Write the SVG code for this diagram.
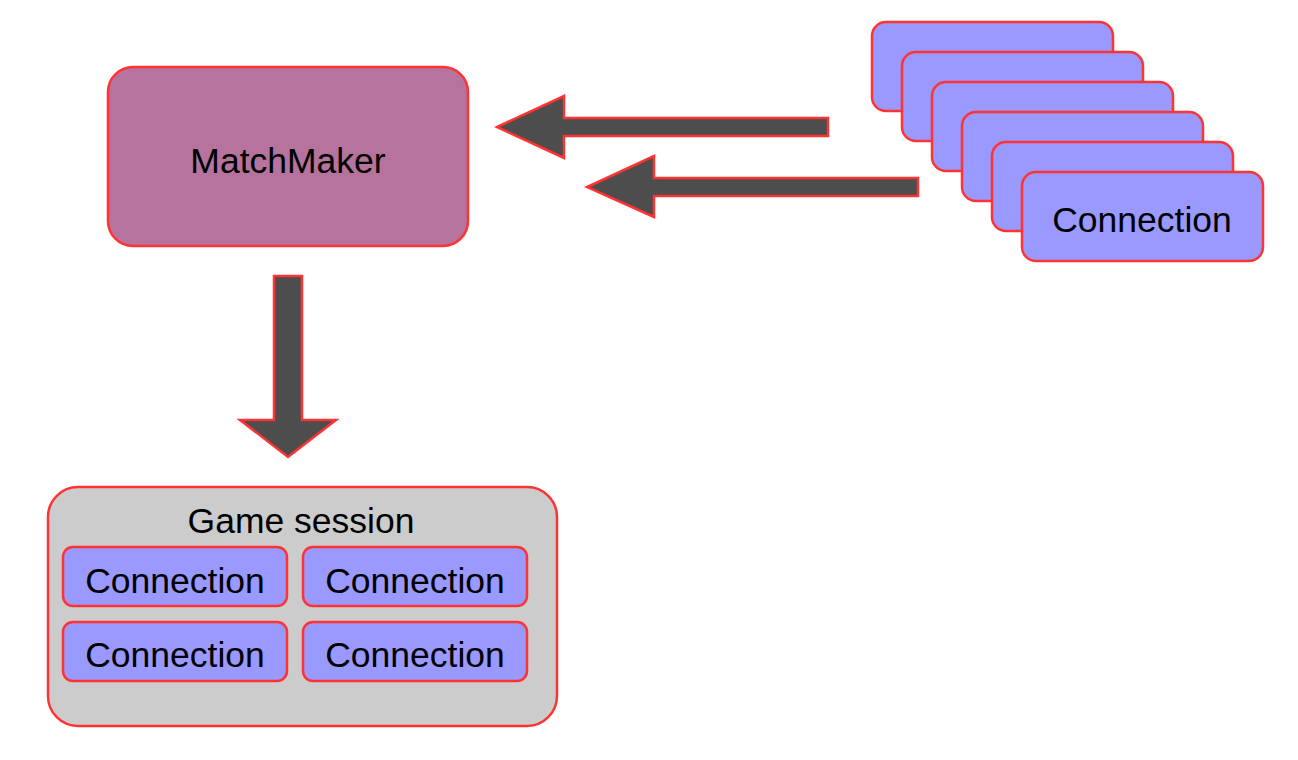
<svg xmlns="http://www.w3.org/2000/svg" width="1298" height="760" viewBox="0 0 1298 760">
<style>
.box{stroke:#FF3333;stroke-width:2.5}
.mm{fill:#B5739D}
.conn{fill:#9999FF}
.gs{fill:#CCCCCC}
.arrow{fill:#4D4D4D;stroke:#FF3333;stroke-width:2.5;stroke-linejoin:miter}
text{font-family:"Liberation Sans",Arial,sans-serif;font-size:35.5px;fill:#000;text-anchor:middle}
</style>
<rect width="1298" height="760" fill="#FFFFFF"/>
<g id="matchmaker">
<rect class="box mm" x="108" y="67" width="360" height="179" rx="25"/>
<text x="288" y="173">MatchMaker</text>
</g>
<g id="connection-stack">
<rect class="box conn" x="872" y="22" width="241" height="89" rx="14"/>
<rect class="box conn" x="902" y="52" width="241" height="89" rx="14"/>
<rect class="box conn" x="932" y="82" width="241" height="89" rx="14"/>
<rect class="box conn" x="962" y="112" width="241" height="89" rx="14"/>
<rect class="box conn" x="992" y="142" width="241" height="89" rx="14"/>
<rect class="box conn" x="1022" y="172" width="241" height="89" rx="14"/>
<text x="1142" y="232">Connection</text>
</g>
<g id="game-session">
<rect class="box gs" x="48" y="487" width="509" height="239" rx="30"/>
<text x="301" y="533">Game session</text>
<g id="gs-conn-1">
<rect class="box conn" x="63" y="547" width="224" height="59" rx="10"/>
<text x="175" y="593">Connection</text>
</g>
<g id="gs-conn-2">
<rect class="box conn" x="303" y="547" width="224" height="59" rx="10"/>
<text x="415" y="593">Connection</text>
</g>
<g id="gs-conn-3">
<rect class="box conn" x="63" y="622" width="224" height="59" rx="10"/>
<text x="175" y="667">Connection</text>
</g>
<g id="gs-conn-4">
<rect class="box conn" x="303" y="622" width="224" height="59" rx="10"/>
<text x="415" y="667">Connection</text>
</g>
</g>
<g id="connectors">
<polygon class="arrow" points="828,118 564,118 564,96 497,127 564,158 564,136 828,136"/>
<polygon class="arrow" points="918,178 654,178 654,156 587,187 654,217 654,196 918,196"/>
<polygon class="arrow" points="274,276 302,276 302,420 336,420 288,457 240,420 274,420"/>
</g>
</svg>
